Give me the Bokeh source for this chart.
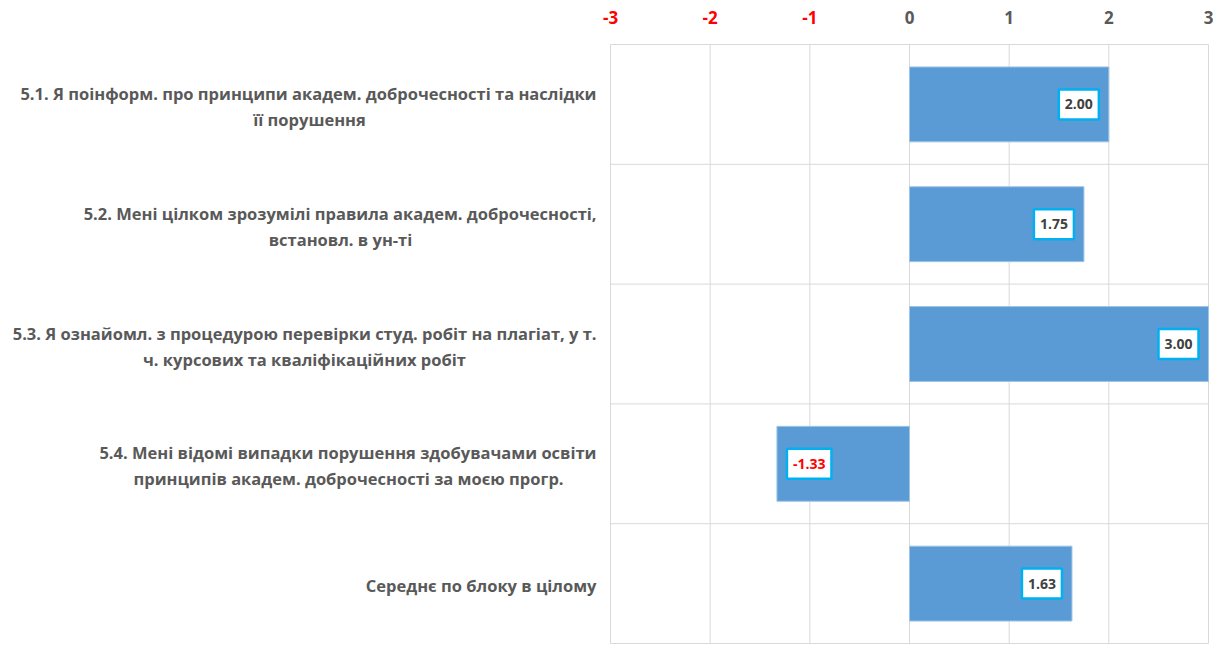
from bokeh.plotting import figure
from bokeh.models import Range1d
from bokeh.embed import file_html
from bokeh.resources import INLINE

categories = [
    "5.1. Я поінформ. про принципи академ. доброчесності та наслідки\nїї порушення",
    "5.2. Мені цілком зрозумілі правила академ. доброчесності,\nвстановл. в ун-ті",
    "5.3. Я ознайомл. з процедурою перевірки студ. робіт на плагіат, у т.\nч. курсових та кваліфікаційних робіт",
    "5.4. Мені відомі випадки порушення здобувачами освіти\nпринципів академ. доброчесності за моєю прогр.",
    "Середнє по блоку в цілому",
]
values = [2.00, 1.75, 3.00, -1.33, 1.63]
x_ticks = [-3, -2, -1, 0, 1, 2, 3]

FONT = "Open Sans"
GRAY = "#595959"
RED = "#FF0000"
BAR = "#5B9BD5"
GRID = "#D9D9D9"

W, H = 1213, 647
FRAME_L, FRAME_R, FRAME_T, FRAME_B = 610, 1208, 44, 643   # plot box in canvas px
n = len(categories)
XMIN, XMAX = x_ticks[0], x_ticks[-1]
PX = (FRAME_R - FRAME_L) / (XMAX - XMIN)
PY = (FRAME_B - FRAME_T) / n

x_start = XMIN - FRAME_L / PX
x_end = XMAX + (W - FRAME_R) / PX
y_start = -(H - FRAME_B) / PY
y_end = n + FRAME_T / PY


def cx(px):  # canvas px -> data x
    return x_start + px / PX


def dy(px):  # px -> data y distance
    return px / PY


p = figure(width=W, height=H, output_backend="svg", toolbar_location=None,
           x_range=Range1d(x_start, x_end), y_range=Range1d(y_start, y_end),
           x_axis_location=None, y_axis_location=None, min_border=0)
p.outline_line_color = None
p.grid.visible = False

# grid / plot box
p.segment(x0=x_ticks, x1=x_ticks, y0=[0] * len(x_ticks), y1=[n] * len(x_ticks),
          line_color=GRID, line_width=1)
rows = list(range(0, n + 1))
p.segment(x0=[XMIN] * len(rows), x1=[XMAX] * len(rows), y0=rows, y1=rows,
          line_color=GRID, line_width=1)

centers = [n - i - 0.5 for i in range(n)]

# top tick labels
tick_colors = [RED if t < 0 else GRAY for t in x_ticks]
p.text(x=x_ticks, y=[n + dy(27)] * len(x_ticks), text=[str(t) for t in x_ticks],
       text_color=tick_colors, text_align="center", text_baseline="middle",
       text_font={"value": FONT}, text_font_style="bold", text_font_size="17px")

# bars
p.hbar(y=centers, left=0, right=values, height=0.625, fill_color=BAR,
       line_color="#9DC3E6", line_width=1)

# value labels
pos = [(c, v) for c, v in zip(centers, values) if v >= 0]
neg = [(c, v) for c, v in zip(centers, values) if v < 0]
common = dict(text_baseline="middle", text_font={"value": FONT}, text_font_style="bold",
              text_font_size="14px", background_fill_color="white",
              border_line_color="#00B0F0", border_line_width=2.5,
              padding=dict(left=6, right=6, top=10, bottom=10))
p.text(x=[v for _, v in pos], y=[c for c, _ in pos], text=[f"{v:.2f}" for _, v in pos],
       x_offset=-10, text_align="right", text_color="#404040", **common)
p.text(x=[v for _, v in neg], y=[c for c, _ in neg], text=[f"{v:.2f}" for _, v in neg],
       x_offset=10, text_align="left", text_color=RED, **common)

# category labels: first line right-aligned, second line centred under the first
line2_centers_px = [309, 340, 304, 348, 0]
lab_right = cx(FRAME_L - 14)
for c, cat, lc in zip(centers, categories, line2_centers_px):
    lines = cat.split("\n")
    style = dict(text_baseline="middle", text_font={"value": FONT}, text_font_style="bold",
                 text_font_size="16.5px", text_color=GRAY)
    if len(lines) == 1:
        p.text(x=[lab_right], y=[c - dy(1.5)], text=[lines[0]], text_align="right", **style)
    else:
        p.text(x=[lab_right], y=[c + dy(11)], text=[lines[0]], text_align="right", **style)
        p.text(x=[cx(lc)], y=[c - dy(15)], text=[lines[1]], text_align="center", **style)

open("out.html", "w").write(file_html(p, INLINE))
